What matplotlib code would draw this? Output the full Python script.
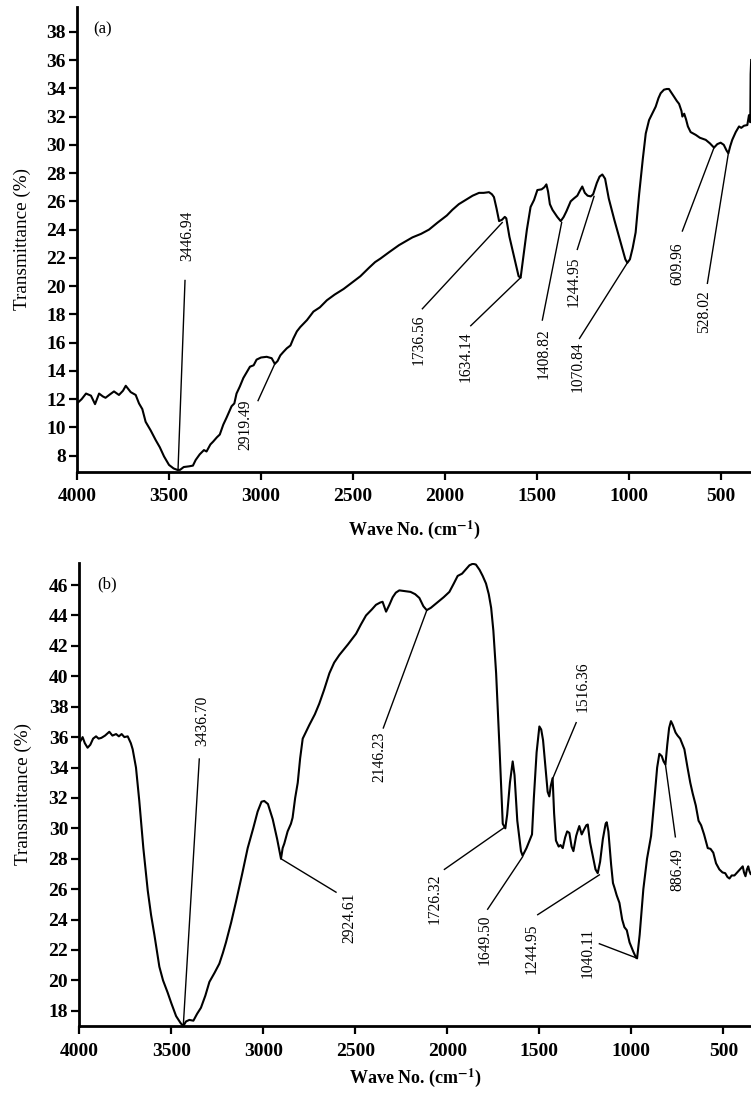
import numpy as np
import matplotlib
matplotlib.use('Agg')
import matplotlib.pyplot as plt

plt.rcParams['font.family'] = ['Liberation Serif', 'DejaVu Serif']
plt.rcParams['mathtext.fontset'] = 'stix'

# spectrum (a)
wave_a = [4000, 3975, 3951, 3924, 3902, 3880, 3860, 3845, 3820, 3799, 3772, 3750, 3735, 3720,
          3708, 3681, 3663, 3645, 3627, 3600, 3572, 3550, 3527, 3500, 3475, 3455, 3440, 3420,
          3391, 3370, 3355, 3333, 3310, 3296, 3275, 3260, 3240, 3224, 3205, 3187, 3160, 3145,
          3133, 3115, 3096, 3078, 3060, 3040, 3024, 3000, 2969, 2942, 2925, 2910, 2895, 2878,
          2860, 2840, 2824, 2805, 2787, 2750, 2715, 2680, 2642, 2600, 2551, 2500, 2460, 2413,
          2380, 2351, 2304, 2250, 2177, 2130, 2087, 2040, 1990, 1960, 1925, 1888, 1850, 1815,
          1790, 1761, 1745, 1734, 1720, 1706, 1690, 1675, 1667, 1650, 1620, 1600, 1589, 1575,
          1555, 1535, 1516, 1498, 1475, 1460, 1449, 1440, 1430, 1416, 1390, 1371, 1355, 1340,
          1317, 1300, 1281, 1265, 1254, 1240, 1225, 1208, 1195, 1175, 1160, 1145, 1130, 1110,
          1080, 1050, 1020, 1009, 995, 980, 964, 945, 925, 909, 891, 870, 855, 840, 828, 810,
          795, 783, 770, 755, 740, 728, 715, 710, 700, 690, 680, 665, 637, 615, 583, 560, 538,
          520, 502, 485, 470, 460, 450, 439, 420, 402, 390, 375, 357, 348, 341, 339, 336]
trans_a = [11.7, 12.0, 12.4, 12.25, 11.65, 12.4, 12.2, 12.1, 12.35, 12.55, 12.3, 12.6, 12.95, 12.7,
           12.5, 12.3, 11.7, 11.3, 10.4, 9.8, 9.1, 8.6, 7.95, 7.35, 7.1, 7.0, 7.0, 7.2,
           7.25, 7.3, 7.7, 8.1, 8.4, 8.3, 8.8, 9.0, 9.3, 9.5, 10.2, 10.7, 11.5, 11.7,
           12.4, 12.9, 13.5, 13.9, 14.3, 14.4, 14.8, 14.95, 15.0, 14.9, 14.5, 14.7, 15.1, 15.35,
           15.6, 15.8, 16.3, 16.8, 17.1, 17.6, 18.2, 18.5, 19.0, 19.4, 19.8, 20.3, 20.7, 21.3,
           21.7, 21.95, 22.4, 22.9, 23.45, 23.7, 24.0, 24.5, 25.0, 25.4, 25.8, 26.1, 26.4, 26.6,
           26.6, 26.65, 26.5, 26.3, 25.5, 24.6, 24.7, 24.9, 24.8, 23.5, 21.8, 20.7, 20.6, 22.0,
           24.0, 25.6, 26.1, 26.8, 26.85, 27.0, 27.2, 26.7, 25.8, 25.4, 24.9, 24.6, 24.9, 25.3,
           26.0, 26.2, 26.4, 26.8, 27.05, 26.6, 26.4, 26.35, 26.5, 27.3, 27.75, 27.9, 27.6, 26.2,
           24.7, 23.3, 21.9, 21.65, 21.9, 22.7, 23.8, 26.5, 29.0, 30.8, 31.75, 32.3, 32.7, 33.3, 33.65, 33.9,
           33.95, 33.95, 33.7, 33.4, 33.1, 32.9, 32.4, 32.0, 32.2, 31.8, 31.3, 30.9, 30.7, 30.5, 30.35, 30.1, 29.8,
           30.05, 30.15, 30.0, 29.6, 29.4, 29.9, 30.35, 30.9, 31.3, 31.2, 31.35, 31.4, 32.1, 31.6, 35.0, 36.0]

# spectrum (b)
wave_b = [4000, 3982, 3970, 3955, 3940, 3925, 3909, 3895, 3880, 3860, 3837, 3820, 3800, 3785,
          3770, 3755, 3737, 3720, 3710, 3692, 3674, 3652, 3628, 3610, 3592, 3565, 3545, 3520,
          3500, 3474, 3450, 3435, 3420, 3402, 3380, 3360, 3339, 3315, 3293, 3265, 3239, 3220,
          3203, 3175, 3148, 3115, 3085, 3055, 3031, 3010, 2995, 2975, 2949, 2925, 2904, 2895,
          2886, 2868, 2850, 2841, 2827, 2813, 2800, 2786, 2770, 2750, 2720, 2696, 2670, 2641,
          2615, 2587, 2540, 2496, 2470, 2442, 2410, 2388, 2365, 2352, 2340, 2333, 2315, 2297,
          2280, 2261, 2230, 2200, 2175, 2152, 2130, 2112, 2090, 2050, 2020, 1989, 1965, 1944,
          1920, 1898, 1880, 1862, 1845, 1825, 1808, 1790, 1775, 1762, 1750, 1735, 1717, 1699,
          1685, 1675, 1660, 1645, 1635, 1620, 1600, 1591, 1570, 1550, 1540, 1530, 1515, 1500,
          1490, 1480, 1465, 1455, 1446, 1438, 1428, 1420, 1410, 1395, 1385, 1373, 1360, 1349,
          1337, 1325, 1315, 1300, 1290, 1283, 1270, 1258, 1245, 1237, 1225, 1210, 1195, 1183,
          1170, 1155, 1140, 1134, 1125, 1110, 1100, 1092, 1080, 1065, 1050, 1038, 1025, 1010,
          990, 975, 969, 955, 935, 915, 893, 875, 860, 848, 835, 825, 815, 805, 795, 785, 775,
          760, 749, 735, 725, 712, 695, 680, 667, 650, 635, 621, 605, 585, 570, 555, 540, 522,
          505, 490, 478, 467, 455, 440, 425, 410, 395, 388, 380, 372, 365, 359, 352]
trans_b = [35.6, 36.0, 35.6, 35.3, 35.5, 35.9, 36.05, 35.9, 35.95, 36.1, 36.35, 36.1, 36.2, 36.05,
           36.2, 36.0, 36.05, 35.6, 35.2, 34.0, 31.8, 28.7, 25.9, 24.3, 23.0, 20.9, 20.0, 19.2,
           18.5, 17.65, 17.2, 17.0, 17.3, 17.4, 17.35, 17.8, 18.2, 19.0, 19.9, 20.5, 21.1, 21.8,
           22.5, 23.8, 25.2, 27.0, 28.7, 30.0, 31.1, 31.75, 31.8, 31.6, 30.6, 29.3, 28.0, 28.7,
           29.0, 29.8, 30.3, 30.7, 32.0, 33.0, 34.6, 35.9, 36.3, 36.8, 37.5, 38.2, 39.1, 40.2,
           40.9, 41.4, 42.1, 42.8, 43.4, 44.0, 44.4, 44.7, 44.85, 44.9, 44.5, 44.25, 44.7, 45.2,
           45.5, 45.65, 45.6, 45.55, 45.4, 45.15, 44.6, 44.35, 44.5, 44.9, 45.2, 45.55, 46.1, 46.6,
           46.75, 47.05, 47.3, 47.4, 47.35, 47.0, 46.6, 46.1, 45.4, 44.5, 43.0, 40.2, 35.4, 30.3,
           30.0, 30.9, 33.0, 34.4, 33.5, 30.5, 28.5, 28.2, 28.7, 29.3, 29.6, 32.0, 35.0, 36.7,
           36.5, 35.8, 33.8, 32.4, 32.1, 32.8, 33.3, 31.0, 29.2, 28.8, 28.9, 28.7, 29.4, 29.8,
           29.7, 28.8, 28.5, 29.5, 29.9, 30.15, 29.6, 29.9, 30.2, 30.25, 29.1, 28.2, 27.3, 27.05,
           27.8, 29.3, 30.3, 30.4, 29.8, 27.6, 26.4, 26.1, 25.6, 25.1, 24.0, 23.5, 23.3, 22.5,
           21.9, 21.5, 21.45, 23.0, 26.0, 28.0, 29.5, 31.9, 34.0, 34.9, 34.75, 34.4, 34.2, 35.5, 36.6, 37.05, 36.8,
           36.3, 36.1, 35.9, 35.6, 35.2, 34.0, 33.0, 32.3, 31.5, 30.5, 30.2, 29.6, 28.7, 28.65, 28.4, 27.7, 27.3,
           27.1, 27.05, 26.8, 26.7, 26.9, 26.9, 27.1, 27.3, 27.5, 27.1, 26.85, 27.3, 27.5, 27.2, 27.0]

# peak labels: text, text x, text y, va, line start, line end
peaks_a = [
    ('3446.94', 3402, 21.8, 'bottom', (3413, 20.4), (3451, 7.0)),
    ('2919.49', 3083, 12.0, 'top', (3016, 11.9), (2925, 14.5)),
    ('1736.56', 2141, 18.0, 'top', (2123, 18.4), (1689, 24.5)),
    ('1634.14', 1888, 16.8, 'top', (1860, 17.2), (1589, 20.6)),
    ('1408.82', 1462, 17.0, 'top', (1471, 17.6), (1366, 24.5)),
    ('1244.95', 1299, 22.1, 'top', (1281, 22.6), (1190, 26.35)),
    ('1070.84', 1281, 16.1, 'top', (1269, 16.3), (1009, 21.65)),
    ('609.96', 738, 23.1, 'top', (710, 23.9), (538, 29.8)),
    ('528.02', 592, 19.7, 'top', (574, 20.2), (460, 29.4)),
]
peaks_b = [
    ('3436.70', 3333, 35.4, 'bottom', (3348, 34.56), (3435, 17.0)),
    ('2924.61', 2533, 25.75, 'top', (2605, 25.8), (2904, 28.0)),
    ('2146.23', 2370, 36.35, 'top', (2348, 36.6), (2112, 44.33)),
    ('1516.36', 1264, 37.67, 'bottom', (1300, 36.95), (1428, 33.26)),
    ('1726.32', 2071, 27.06, 'top', (2016, 27.3), (1685, 30.1)),
    ('1649.50', 1799, 24.32, 'top', (1781, 24.68), (1591, 28.13)),
    ('1244.95', 1545, 23.73, 'top', (1509, 24.32), (1174, 26.94)),
    ('1040.11', 1237, 23.48, 'top', (1174, 22.41), (969, 21.46)),
    ('886.49', 748, 28.73, 'top', (761, 29.44), (815, 34.2)),
]

W, H = 751, 1097
fig = plt.figure(figsize=(W / 100, H / 100), dpi=100)

ax1 = fig.add_axes([77 / W, 1 - 471.7 / H, 1 - 77 / W, (471.7 - 7.3) / H])
ax2 = fig.add_axes([79.3 / W, 1 - 1026 / H, 1 - 79.3 / W, (1026 - 562.7) / H])

def style(ax, wave, trans, peaks, xlim, ylim, yticks, tag, tagpos):
    ax.plot(wave, trans, color='black', lw=1.5)
    for txt, tx, ty, va, p0, p1 in peaks:
        ax.plot([p0[0], p1[0]], [p0[1], p1[1]], color='black', lw=1.0)
        ax.text(tx, ty, txt, rotation=90, ha='center', va=va, fontsize=11.2)
    ax.set_xlim(*xlim)
    ax.set_ylim(*ylim)
    ax.set_yticks(yticks)
    ax.set_xticks([4000, 3500, 3000, 2500, 2000, 1500, 1000, 500])
    for s in ['top', 'right']:
        ax.spines[s].set_visible(False)
    for s in ['left', 'bottom']:
        ax.spines[s].set_linewidth(2)
    ax.tick_params(direction='out', length=6, width=1.6, labelsize=14, pad=2)
    ax.tick_params(axis='x', pad=6)
    for lab in ax.get_xticklabels() + ax.get_yticklabels():
        lab.set_fontweight('bold')
    ax.set_ylabel('Transmittance (%)', fontsize=13.8, va='center')
    ax.set_xlabel(r'Wave No. (cm$^{\mathbf{-1}}$)', fontsize=13, fontweight='bold', va='center')
    ax.text(tagpos[0], tagpos[1], tag, ha='left', va='center', fontsize=12)

style(ax1, wave_a, trans_a, peaks_a, (4000, 337), (6.87, 39.73),
      np.arange(8, 39, 2), '(a)', (3913, 38.2))
style(ax2, wave_b, trans_b, peaks_b, (4000, 350), (17.0, 47.47),
      np.arange(18, 47, 2), '(b)', (3904, 46.03))

ax1.yaxis.set_label_coords((22 - 77) / (W - 77), 0.5)
ax2.yaxis.set_label_coords((23 - 79.3) / (W - 79.3), 0.5)
ax1.xaxis.set_label_coords(0.5, -(530 - 471.7) / (471.7 - 7.3))
ax2.xaxis.set_label_coords(0.5, -(1078 - 1026) / (1026 - 562.7))

fig.savefig('out.png', dpi=100)
